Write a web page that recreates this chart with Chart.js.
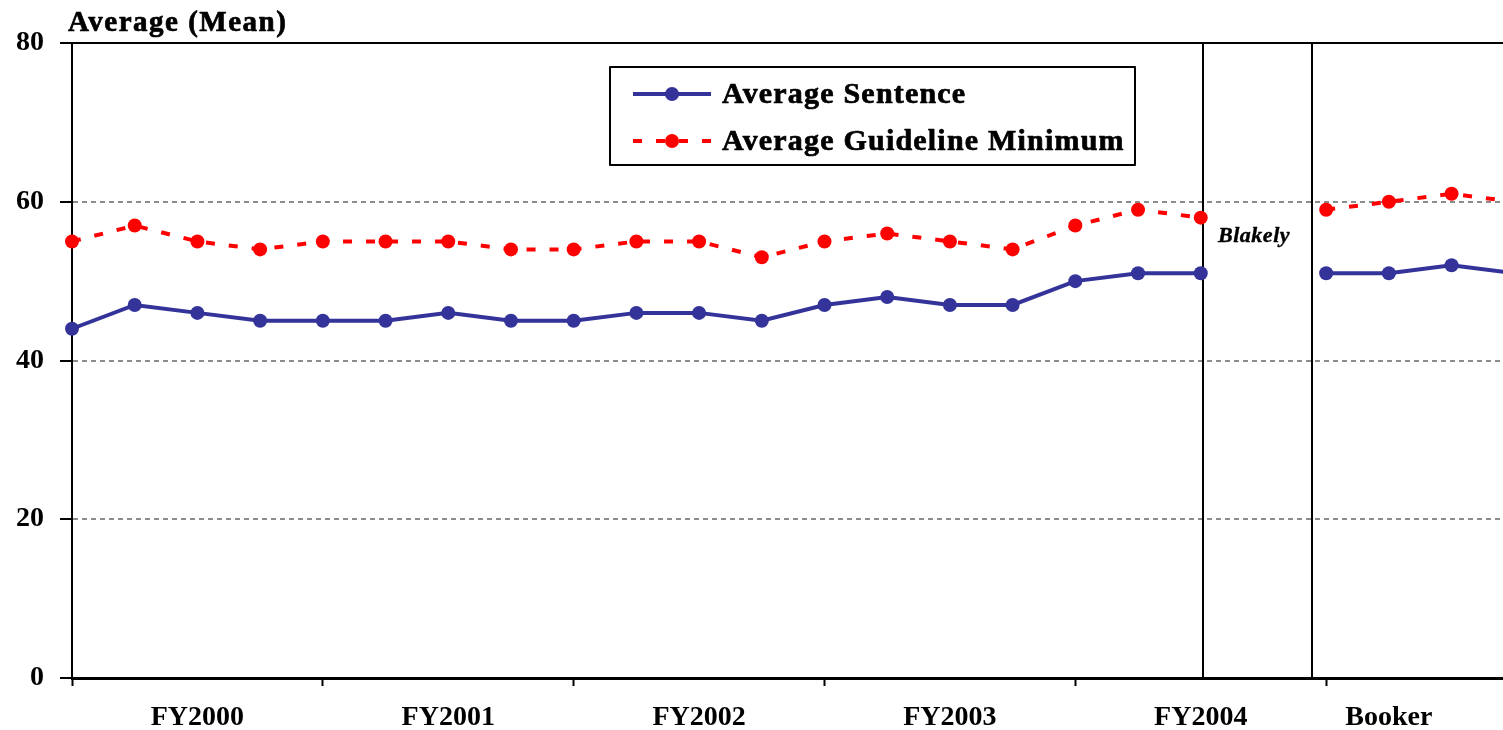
<!DOCTYPE html>
<html>
<head>
<meta charset="utf-8">
<script src="https://cdn.jsdelivr.net/npm/chart.js@4/dist/chart.umd.min.js"></script>
<style>
  html, body { margin: 0; padding: 0; background: #fff; }
  #c { display: block; }
</style>
</head>
<body>
<canvas id="c" width="1503" height="730"></canvas>
<script>
// ---- data ----
const quarterIndex = [0,1,2,3,4,5,6,7,8,9,10,11,12,13,14,15,16,17,18,19,20,21,22,23];
const averageSentence = [44,47,46,45,45,45,46,45,45,46,46,45,47,48,47,47,50,51,51,null,51,51,52,51];
const averageGuidelineMinimum = [55,57,55,54,55,55,55,54,54,55,55,53,55,56,55,54,57,59,58,null,59,60,61,60];
const periodLabels = ['FY2000','FY2001','FY2002','FY2003','FY2004','Booker'];
const periodLabelPositions = [2,6,10,14,18,21];
const periodBoundaries = [0,4,8,12,16,20];
const yTicks = [0,20,40,60,80];
const dividerPositions = [18.03, 19.78];
const dividerLabel = 'Blakely';
const dividerLabelPos = { x: 18.85, y: 55.6 };
const yAxisTitle = 'Average (Mean)';
const seriesNames = ['Average Sentence', 'Average Guideline Minimum'];

const SERIF = '"Liberation Serif", "Times New Roman", serif';
const BLUE = '#333399';
const RED = '#ff0000';

const toPoints = arr => arr.map((v, i) => ({ x: quarterIndex[i], y: v }));

function heavyText(ctx, text, x, y, w) {
  ctx.lineWidth = w;
  ctx.strokeStyle = ctx.fillStyle;
  ctx.lineJoin = 'round';
  ctx.strokeText(text, x, y);
  ctx.fillText(text, x, y);
}

const overlayPlugin = {
  id: 'overlay',
  beforeDatasetsDraw(chart) {
    const { ctx, chartArea, scales } = chart;
    ctx.save();
    ctx.strokeStyle = '#000';
    ctx.lineWidth = 2;
    dividerPositions.forEach(v => {
      const px = Math.round(scales.x.getPixelForValue(v));
      ctx.beginPath();
      ctx.moveTo(px, chartArea.top);
      ctx.lineTo(px, chartArea.bottom);
      ctx.stroke();
    });
    ctx.fillStyle = '#000';
    ctx.font = 'italic bold 22px ' + SERIF;
    ctx.letterSpacing = '0.5px';
    ctx.textAlign = 'center';
    ctx.textBaseline = 'middle';
    heavyText(ctx, dividerLabel, scales.x.getPixelForValue(dividerLabelPos.x), scales.y.getPixelForValue(dividerLabelPos.y), 0.4);
    ctx.restore();
  },
  afterDraw(chart) {
    const { ctx } = chart;
    ctx.save();
    // axis title
    ctx.fillStyle = '#000';
    ctx.font = 'bold 29px ' + SERIF;
    ctx.letterSpacing = '1.5px';
    ctx.textAlign = 'left';
    ctx.textBaseline = 'alphabetic';
    heavyText(ctx, yAxisTitle, 68, 31, 0.7);
    // legend box
    const bx = 610, by = 67, bw = 525, bh = 98;
    ctx.fillStyle = '#fff';
    ctx.fillRect(bx, by, bw, bh);
    ctx.strokeStyle = '#000';
    ctx.lineWidth = 2;
    ctx.strokeRect(bx, by, bw, bh);
    const rows = [94, 141];
    chart.data.datasets.forEach((ds, i) => {
      const y = rows[i];
      ctx.strokeStyle = ds.borderColor;
      ctx.lineWidth = 4;
      ctx.setLineDash(ds.borderDash || []);
      ctx.beginPath();
      ctx.moveTo(633, y);
      ctx.lineTo(711, y);
      ctx.stroke();
      ctx.setLineDash([]);
      ctx.fillStyle = ds.pointBackgroundColor;
      ctx.beginPath();
      ctx.arc(672, y, 7, 0, Math.PI * 2);
      ctx.fill();
      ctx.fillStyle = '#000';
      ctx.font = 'bold 30px ' + SERIF;
      ctx.letterSpacing = '1.2px';
      ctx.textBaseline = 'middle';
      heavyText(ctx, ds.label, 722, y + 1, 0.7);
    });
    ctx.restore();
  }
};

new Chart(document.getElementById('c'), {
  type: 'line',
  data: {
    datasets: [
      {
        label: seriesNames[0],
        data: toPoints(averageSentence),
        borderColor: BLUE,
        backgroundColor: BLUE,
        pointBackgroundColor: BLUE,
        pointBorderColor: BLUE,
        borderWidth: 4,
        pointRadius: 7,
        pointBorderWidth: 0,
        spanGaps: false,
        tension: 0,
        clip: false
      },
      {
        label: seriesNames[1],
        data: toPoints(averageGuidelineMinimum),
        borderColor: RED,
        backgroundColor: RED,
        pointBackgroundColor: RED,
        pointBorderColor: RED,
        borderWidth: 4,
        borderDash: [9, 14],
        pointRadius: 7,
        pointBorderWidth: 0,
        spanGaps: false,
        tension: 0,
        clip: false
      }
    ]
  },
  options: {
    responsive: false,
    animation: false,
    devicePixelRatio: 1,
    layout: { autoPadding: false, padding: { top: 43, left: 0, right: 0, bottom: 0 } },
    plugins: {
      legend: { display: false },
      title: { display: false },
      tooltip: { enabled: false }
    },
    scales: {
      x: {
        type: 'linear',
        min: 0,
        max: 22.82,
        afterFit(scale) { scale.height = 52; scale.paddingRight = 0; scale.paddingLeft = 0; },
        afterBuildTicks(scale) {
          const vals = periodBoundaries.concat(periodLabelPositions).sort((a, b) => a - b);
          scale.ticks = vals.map(v => ({ value: v }));
        },
        grid: {
          drawOnChartArea: false,
          drawTicks: true,
          tickLength: 8,
          tickWidth: 2,
          tickColor: ctx => (ctx.tick && periodBoundaries.includes(ctx.tick.value)) ? '#000' : 'rgba(0,0,0,0)'
        },
        border: { display: true, color: '#000', width: 3 },
        ticks: {
          autoSkip: false,
          maxRotation: 0,
          padding: 15,
          color: '#000',
          font: { family: SERIF, size: 28, weight: 'bold' },
          callback: (value) => {
            const k = periodLabelPositions.indexOf(value);
            return k >= 0 ? periodLabels[k] : '';
          }
        }
      },
      y: {
        min: 0,
        max: 80,
        afterFit(scale) { scale.width = 72; scale.paddingTop = 0; scale.paddingBottom = 0; },
        afterBuildTicks(scale) { scale.ticks = yTicks.map(v => ({ value: v })); },
        grid: {
          drawTicks: true,
          tickLength: 12,
          tickWidth: 2,
          tickColor: '#000',
          lineWidth: 2,
          color: ctx => {
            const v = ctx.tick ? ctx.tick.value : null;
            if (v === 0) return 'rgba(0,0,0,0)';
            if (v === 80) return '#000';
            return '#8c8c8c';
          }
        },
        border: {
          display: true,
          color: '#000',
          width: 2,
          dash: ctx => (ctx.tick && ctx.tick.value !== 80) ? [5, 4] : []
        },
        ticks: {
          padding: 16,
          color: '#000',
          font: { family: SERIF, size: 28, weight: 'bold' }
        }
      }
    }
  },
  plugins: [overlayPlugin]
});
</script>
</body>
</html>
